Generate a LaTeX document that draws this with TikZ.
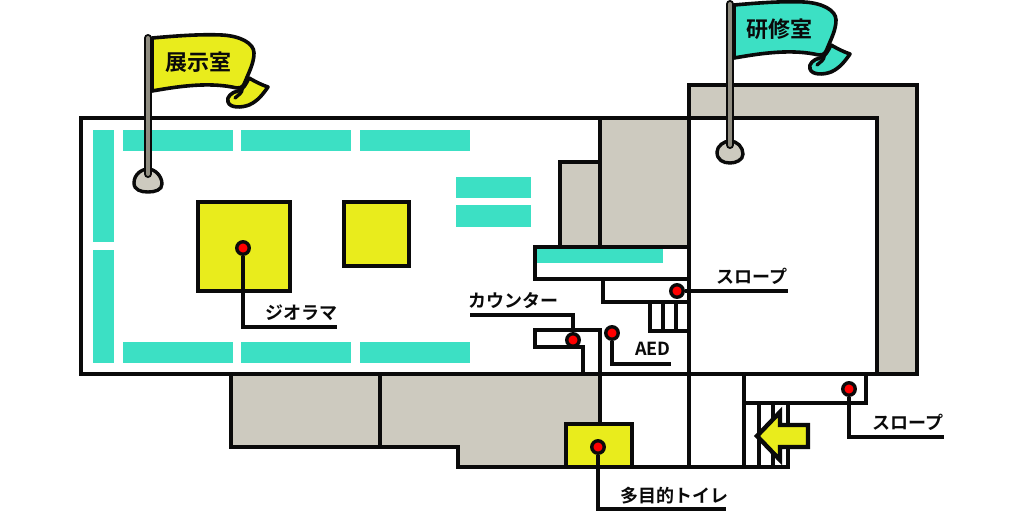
\documentclass[tikz,border=0pt]{standalone}
\usepackage{fontspec}
\setmainfont{Noto Sans CJK JP}[BoldFont={Noto Sans CJK JP Bold}]
\usepackage{xcolor}
\definecolor{flagyellow}{HTML}{E9EC1C}
\definecolor{teal2}{HTML}{3CE0C4}
\definecolor{wallgray}{HTML}{CDCABF}
\definecolor{polegray}{HTML}{8F8C80}
\definecolor{ink}{HTML}{0A0A0A}
\tikzset{
  wall/.style={draw=ink,line width=4.4pt,line join=miter,line cap=butt},
  grayfill/.style={fill=wallgray,draw=none},
  tealbar/.style={fill=teal2,draw=none},
  yellowbox/.style={fill=flagyellow,wall},
  reddot/.style={circle,fill=red,draw=ink,line width=3.4pt,minimum size=12.5pt,inner sep=0pt},
  leader/.style={draw=ink,line width=3.2pt,line join=miter},
  maplabel/.style={font=\fontsize{18}{18}\selectfont\bfseries,text=ink,inner sep=0pt},
  flaglabel/.style={font=\fontsize{22}{22}\selectfont\bfseries,text=ink,inner sep=0pt},
  flagcloth/.style={draw=ink,line width=3.6pt,line join=round},
  polecore/.style={draw=ink,line width=8pt,line cap=round},
  poleinner/.style={draw=polegray,line width=4pt,line cap=round},
  base/.style={fill=wallgray,draw=ink,line width=3.4pt},
}
\newcommand{\flagcloth}[1]{%
  \path[flagcloth,fill=#1] (249,78) .. controls (256,82) and (262,85) .. (268,87)
    .. controls (263,94) and (258,101) .. (249,105)
    .. controls (241,108) and (230,108) .. (228,102)
    .. controls (226,97) and (232,92) .. (238,91)
    .. controls (243,90) and (246,84) .. (249,78) -- cycle;
  \path[flagcloth,fill=#1] (152,38) .. controls (175,36) and (200,34) .. (222,35)
    .. controls (240,36) and (254,43) .. (254,53)
    .. controls (254,63) and (249,72) .. (245,82)
    .. controls (243,88) and (240,89) .. (232,87)
    .. controls (205,82) and (175,87) .. (152,91) -- cycle;
  \draw[ink,line width=3.4pt,line cap=round] (242,88) .. controls (243,93) and (238,95) .. (235,98);
}
\begin{document}
\begin{tikzpicture}[x=1pt,y=-1pt]
\useasboundingbox (0,0) rectangle (1024,512);
\fill[white] (0,0) rectangle (1024,512);
% gray masses
\fill[grayfill] (689,85) -- (917,85) -- (917,374) -- (877,374) -- (877,118) -- (689,118) -- cycle;
\fill[grayfill] (600,118) -- (689,118) -- (689,247) -- (560,247) -- (560,162) -- (600,162) -- cycle;
\fill[grayfill] (231,374) -- (600,374) -- (600,424) -- (566,424) -- (566,467) -- (458,467) -- (458,447) -- (231,447) -- cycle;
% teal bars
\foreach \a/\b in {123/233,241/351,360/470}{
  \fill[tealbar] (\a,130) rectangle (\b,151);
  \fill[tealbar] (\a,342) rectangle (\b,363);
}
\fill[tealbar] (93,130) rectangle (114,242);
\fill[tealbar] (93,250) rectangle (114,363);
\fill[tealbar] (456,177) rectangle (531,198);
\fill[tealbar] (456,205) rectangle (531,227);
\fill[tealbar] (537,249) rectangle (663,263);
% walls
\draw[wall] (81,118) rectangle (689,374);
\draw[wall] (689,118) -- (877,118) -- (877,374);
\draw[wall] (689,374) -- (917,374) -- (917,85) -- (689,85) -- (689,467);
\draw[wall] (600,118) -- (600,247);
\draw[wall] (560,247) -- (560,162) -- (600,162);
\draw[wall] (689,247) -- (535,247) -- (535,279) -- (689,279);
\draw[wall] (603,279) -- (603,302) -- (689,302);
\draw[wall] (650,302) -- (650,331) -- (689,331);
\draw[wall] (663,302) -- (663,331);
\draw[wall] (676,302) -- (676,331);
\draw[wall] (600,374) -- (600,330) -- (535,330) -- (535,347) -- (583,347) -- (583,374);
\draw[wall] (231,374) -- (231,447) -- (458,447) -- (458,467) -- (788,467) -- (788,403);
\draw[wall] (380,374) -- (380,447);
\draw[wall] (600,374) -- (600,424);
\draw[wall] (744,374) -- (744,467);
\draw[wall] (744,403) -- (866,403) -- (866,374);
\draw[wall] (759,403) -- (759,467);
\draw[wall] (773,403) -- (773,467);
% yellow boxes
\draw[yellowbox] (198,202) rectangle (290,291);
\draw[yellowbox] (344,202) rectangle (409,266);
\draw[yellowbox] (566,424) rectangle (632,467);
\draw[yellowbox] (757,436) -- (780,412) -- (780,425) -- (808,425) -- (808,447) -- (780,447) -- (780,460) -- cycle;
% leaders and dots
\coordinate (dioramaEnd) at (337,327);
\coordinate (slopeEndA) at (788,291);
\coordinate (counterEnd) at (470,315);
\coordinate (aedEnd) at (671,364);
\coordinate (slopeEndB) at (944,437);
\coordinate (toiletEnd) at (726,509);
\node[reddot] (dioramaDot) at (243,248) {};
\node[reddot] (slopeDotA) at (677,291) {};
\node[reddot] (counterDot) at (573,340) {};
\node[reddot] (aedDot) at (612,333) {};
\node[reddot] (slopeDotB) at (849,389) {};
\node[reddot] (toiletDot) at (598,447) {};
\draw[leader] (dioramaDot) |- (dioramaEnd);
\draw[leader] (slopeDotA) -- (slopeEndA);
\draw[leader] (counterDot) |- (counterEnd);
\draw[leader] (aedDot) |- (aedEnd);
\draw[leader] (slopeDotB) |- (slopeEndB);
\draw[leader] (toiletDot) |- (toiletEnd);
\node[maplabel] (dioramaText) at (301,313) {ジオラマ};
\node[maplabel] (slopeTextA) at (752,276) {スロープ};
\node[maplabel] (counterText) at (513,301) {カウンター};
\node[maplabel] (aedText) at (653,349) {AED};
\node[maplabel] (slopeTextB) at (908,422) {スロープ};
\node[maplabel] (toiletText) at (674,496) {多目的トイレ};
% flag 1
\flagcloth{flagyellow}
\draw[base] (134,183) .. controls (134,174) and (142,169) .. (148,169)
  .. controls (155,169) and (162,176) .. (162,184)
  .. controls (162,190) and (155,192) .. (148,192)
  .. controls (141,192) and (134,190) .. (134,183) -- cycle;
\draw[polecore] (148,38) -- (148,174);
\draw[poleinner] (148,38) -- (148,174);
\node[flaglabel] (flagOneText) at (198,62) {展示室};
% flag 2
\begin{scope}[shift={(582,-33)}]
\flagcloth{teal2}
\end{scope}
\draw[base] (717,152) .. controls (717,146) and (724,141) .. (730,141)
  .. controls (737,141) and (743,147) .. (743,154)
  .. controls (743,160) and (736,163) .. (730,163)
  .. controls (723,163) and (717,160) .. (717,152) -- cycle;
\draw[polecore] (730,4) -- (730,145);
\draw[poleinner] (730,4) -- (730,145);
\node[flaglabel] (flagTwoText) at (779,29) {研修室};
\end{tikzpicture}
\end{document}
